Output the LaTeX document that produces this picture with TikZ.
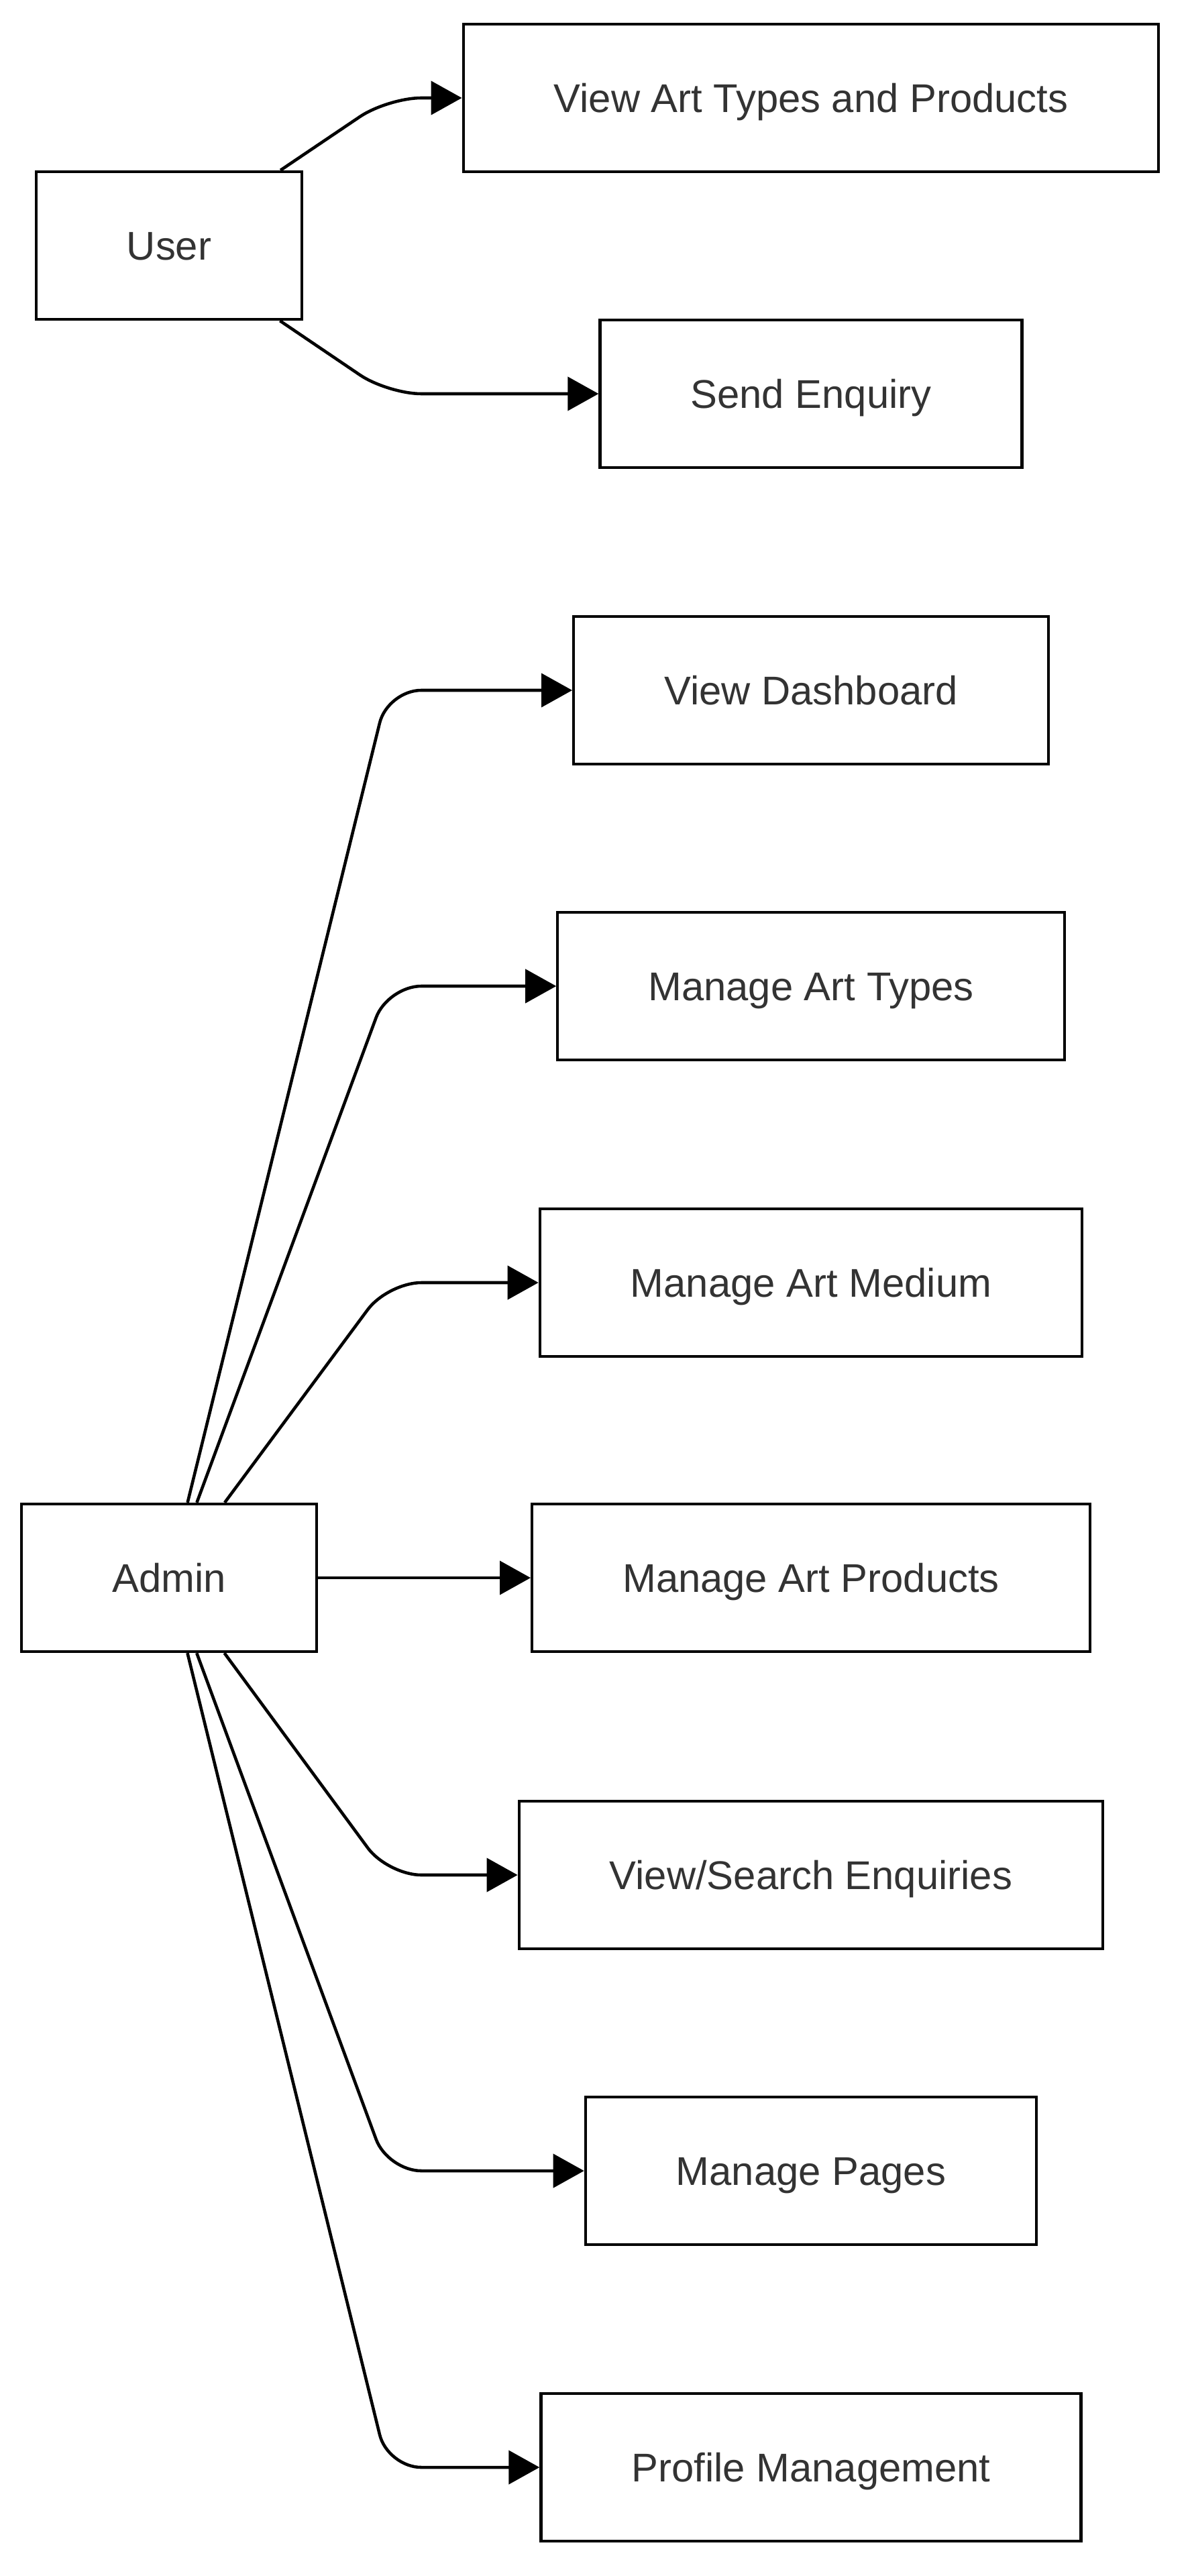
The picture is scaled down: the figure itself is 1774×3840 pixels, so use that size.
\documentclass[tikz,border=0pt]{standalone}
\usepackage{fontspec}
\setmainfont{Liberation Sans}
\usetikzlibrary{arrows.meta}
\definecolor{txtgray}{HTML}{333333}
\tikzset{
  box/.style={draw=black, line width=1.2pt, fill=white, text=txtgray,
    font=\fontsize{17pt}{20pt}\selectfont, minimum height=2.2cm, inner xsep=1.35cm,
    text height=12.2pt, text depth=0pt},
  link/.style={-{Triangle[length=4.6mm,width=5mm]}, line width=1.3pt,
    rounded corners=5mm},
}

\begin{document}
\begin{tikzpicture}[x=0.01cm, y=-0.01cm]
  \useasboundingbox (0,0) rectangle (1774,3840);
  \coordinate (bend) at (578,0);
  % actors
  \node[box] (user) at (252,366) {User};
  \node[box] (admin) at (252,2352) {Admin};
  % user side
  \node[box] (viewart) at (1209,146) {View Art Types and Products};
  \node[box] (enquiry) at (1209,587) {Send Enquiry};
  % admin side
  \node[box] (dash) at (1209,1029) {View Dashboard};
  \node[box] (arttypes) at (1209,1470) {Manage Art Types};
  \node[box] (medium) at (1209,1912) {Manage Art Medium};
  \node[box] (products) at (1209,2352) {Manage Art Products};
  \node[box] (search) at (1209,2795) {View/Search Enquiries};
  \node[box] (pages) at (1209,3236) {Manage Pages};
  \node[box] (profile) at (1209,3678) {Profile Management};

  \draw[link] (user) -- (viewart.west -| bend) -- (viewart);
  \draw[link] (user) -- (enquiry.west -| bend) -- (enquiry);

  \draw[link] (admin) -- (dash.west -| bend) -- (dash);
  \draw[link] (admin) -- (arttypes.west -| bend) -- (arttypes);
  \draw[link] (admin) -- (medium.west -| bend) -- (medium);
  \draw[link] (admin) -- (products);
  \draw[link] (admin) -- (search.west -| bend) -- (search);
  \draw[link] (admin) -- (pages.west -| bend) -- (pages);
  \draw[link] (admin) -- (profile.west -| bend) -- (profile);
\end{tikzpicture}
\end{document}
